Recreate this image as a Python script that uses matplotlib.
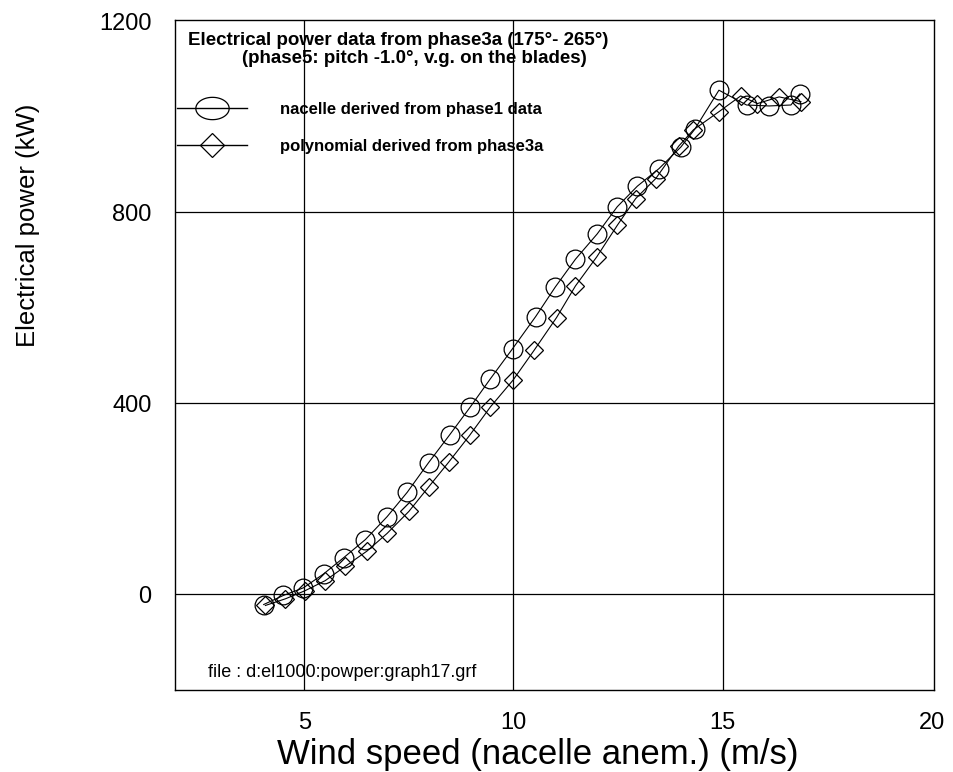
import numpy as np
import matplotlib
matplotlib.use("Agg")
import matplotlib.pyplot as plt
from matplotlib.lines import Line2D
from matplotlib.path import Path

plt.rcParams['font.family'] = ['Liberation Sans', 'DejaVu Sans']

# Power curve derived from the nacelle anemometer (phase1 data)
nacelle_ws = [4.03, 4.50, 4.98, 5.46, 5.94, 6.46, 6.98, 7.46, 7.97, 8.48,
              8.97, 9.45, 9.98, 10.53, 11.00, 11.48, 12.00, 12.48, 12.96,
              13.48, 14.00, 14.33, 14.91, 15.57, 16.11, 16.63, 16.84]
nacelle_kw = [-21, -2, 14, 43, 77, 115, 163, 214, 276, 335,
              393, 452, 515, 582, 644, 702, 755, 812, 855,
              892, 937, 974, 1056, 1025, 1023, 1025, 1048]

# Power curve from the phase3a polynomial fit
poly_ws = [4.07, 4.55, 5.02, 5.50, 5.98, 6.50, 6.98, 7.50, 7.97, 8.45,
           8.95, 9.45, 9.99, 10.49, 11.03, 11.48, 11.99, 12.48, 12.92,
           13.40, 13.95, 14.30, 14.91, 15.43, 15.83, 16.35, 16.87]
poly_kw = [-23, -9, 8, 29, 59, 91, 128, 174, 225, 277,
           333, 393, 449, 511, 580, 646, 707, 773, 829,
           871, 939, 973, 1011, 1044, 1028, 1042, 1032]

x_ticks = [5, 10, 15, 20]
x_grid = [5, 10, 15]
y_ticks = [0, 400, 800, 1200]

title_lines = ["Electrical power data from phase3a (175°- 265°)",
               "(phase5: pitch -1.0°, v.g. on the blades)"]
series_labels = ["nacelle derived from phase1 data",
                 "polynomial derived from phase3a"]
file_note = "file : d:el1000:powper:graph17.grf"

fig = plt.figure(figsize=(9.54, 7.72), dpi=100)
ax = fig.add_axes([175 / 954, 82 / 772, 759 / 954, 670 / 772])
ax.set_xlim(1.91, 20.05)
ax.set_ylim(-200, 1203)

for xv in x_grid:
    ax.axvline(xv, color='black', lw=0.9, zorder=1)
for yv in [0, 400, 800]:
    ax.axhline(yv, color='black', lw=0.9, zorder=1)

ax.plot(nacelle_ws, nacelle_kw, color='black', lw=0.8, marker='o',
        markersize=13.5, markerfacecolor='none', markeredgecolor='black',
        markeredgewidth=0.9, zorder=3)
ax.plot(poly_ws, poly_kw, color='black', lw=0.8, marker='D',
        markersize=9.5, markerfacecolor='none', markeredgecolor='black',
        markeredgewidth=0.9, zorder=3)

ax.set_xticks(x_ticks)
ax.set_xticklabels([str(v) for v in x_ticks])
ax.set_yticks(y_ticks)
ax.set_yticklabels([str(v) for v in y_ticks])
ax.tick_params(axis='both', length=0, labelsize=17)
ax.tick_params(axis='x', pad=16)
ax.tick_params(axis='y', pad=17)

for sp in ax.spines.values():
    sp.set_linewidth(1.0)
    sp.set_color('black')

ax.set_xlabel("Wind speed (nacelle anem.) (m/s)", fontsize=25)
ax.xaxis.set_label_coords(0.478, -0.072)
ax.set_ylabel("Electrical power (kW)", fontsize=18.5)
ax.yaxis.set_label_coords(-0.178, 0.694)

# Header of the key
ax.text(0.294, 0.970, title_lines[0], transform=ax.transAxes,
        ha='center', va='center', fontsize=13.5, fontweight='bold')
ax.text(0.315, 0.942, title_lines[1], transform=ax.transAxes,
        ha='center', va='center', fontsize=13.5, fontweight='bold')

# Key entries with wide oval / diamond glyphs
t = np.linspace(0, 2 * np.pi, 60)
oval = Path(np.column_stack([np.cos(t), 0.67 * np.sin(t)]))
handles = [
    Line2D([], [], color='black', lw=1.0, marker=oval, markersize=24,
           markerfacecolor='none', markeredgecolor='black', markeredgewidth=0.9),
    Line2D([], [], color='black', lw=1.0, marker='D', markersize=12,
           markerfacecolor='none', markeredgecolor='black', markeredgewidth=0.9),
]
leg = ax.legend(handles, series_labels, loc='upper left',
                bbox_to_anchor=(0.003, 0.878), frameon=False,
                prop={'weight': 'bold', 'size': 12},
                handlelength=4.2, handletextpad=1.95, labelspacing=1.32,
                borderaxespad=0.0, borderpad=0.0, numpoints=1)

ax.text(0.044, 0.014, file_note, transform=ax.transAxes, ha='left',
        va='bottom', fontsize=13)

fig.savefig("out.png", dpi=100)
